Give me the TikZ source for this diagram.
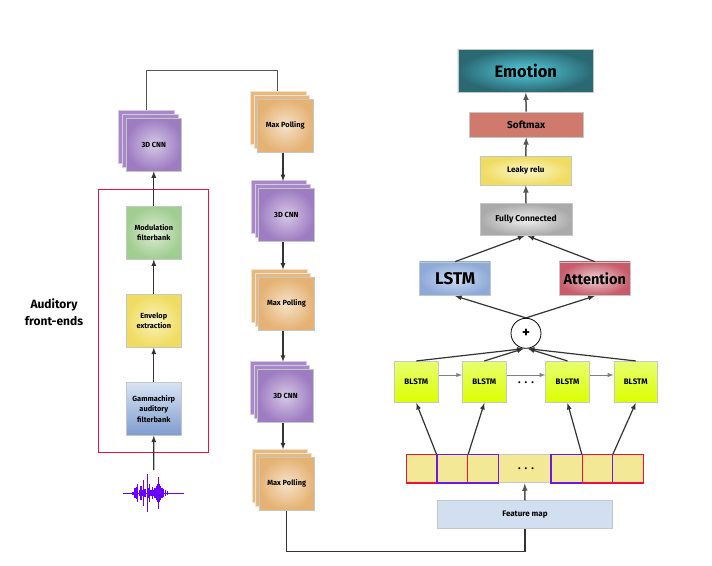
\documentclass[tikz,border=0pt]{standalone}
\usepackage{fontspec}
\setmainfont{Fira Sans}
\usetikzlibrary{shadows}
\definecolor{cnnIn}{HTML}{D6C8E6}
\definecolor{cnnOut}{HTML}{9E7CC2}
\definecolor{poolIn}{HTML}{F6E2C9}
\definecolor{poolOut}{HTML}{E5B274}
\definecolor{waveClr}{HTML}{6A00FF}
\definecolor{boxRed}{HTML}{E8123C}
\definecolor{boxBlue}{HTML}{6A1BE0}
\definecolor{linkClr}{HTML}{333333}
\definecolor{headClr}{HTML}{555555}
\definecolor{cellClr}{HTML}{F3E896}
\definecolor{edgeClr}{HTML}{C4C8C4}
\tikzset{
    block/.style={draw=edgeClr, line width=0.7pt, inner sep=0pt, align=center,
        font=\bfseries\fontsize{7.4}{10.5}\selectfont, minimum width=55.5pt, minimum height=53pt},
    cnnstack/.style={block, inner color=cnnIn, outer color=cnnOut,
        double copy shadow={shadow xshift=-3.7pt, shadow yshift=4pt, fill=cnnOut!90!white, draw=cnnIn}},
    poolstack/.style={block, inner color=poolIn, outer color=poolOut,
        double copy shadow={shadow xshift=-3.5pt, shadow yshift=4pt, fill=poolOut!92!white, draw=poolIn}},
    link/.style={draw=linkClr, line width=1.2pt, -latex},
    headlink/.style={draw=headClr, line width=1.5pt, -latex},
    plainlink/.style={draw=headClr, line width=1.4pt},
    grayarrow/.style={draw=gray, line width=1pt, -latex},
    cell/.style={inner sep=0pt, minimum height=28.3pt, line width=1.1pt},
    dotrow/.style={font=\bfseries\fontsize{11}{11}\selectfont},
}
\begin{document}
\begin{tikzpicture}[x=1pt, y=-1pt, >=latex]
    \useasboundingbox (0,0) rectangle (712,565);

    % Auditory front-ends
    \node[draw=boxRed, line width=0.9pt, minimum width=109.6pt, minimum height=263pt, inner sep=0pt] (frontend) at (153.5,320.8) {};
    \node[align=center, font=\bfseries\fontsize{12}{17}\selectfont] (frontlabel) at (54,312.5) {Auditory\\front-ends};
    \node[block, inner color={rgb,255:red,222;green,237;blue,212}, outer color={rgb,255:red,160;green,205;blue,144}] (modul) at (153.8,232.7) {Modulation\\filterbank};
    \node[block, inner color={rgb,255:red,250;green,243;blue,190}, outer color={rgb,255:red,240;green,220;blue,96}] (envelop) at (153.8,320.8) {Envelop\\extraction};
    \node[block, top color={rgb,255:red,216;green,228;blue,244}, bottom color={rgb,255:red,127;green,156;blue,207}] (gamma) at (153.8,408.8) {Gammachirp\\auditory\\filterbank};

    % waveform
    \coordinate (wave) at (153.7,470);
    \draw[waveClr, line width=0.5pt] (123.3,493.3) -- (184,493.3);
    \foreach \xa/\amp in {133/1.5, 135/5, 136.5/6, 137.7/9, 139.3/3, 141/7, 142/3, 143.3/13, 145/4, 147.3/19, 148.5/5,
        149.7/9, 151/3, 152.3/6, 153.8/3, 155/5, 156.5/7, 157.5/9, 158.3/16, 159.3/9, 160.5/7, 162/5, 163.7/4, 165.5/3, 167.5/2}
        \draw[waveClr, line width=1.2pt] (\xa,493.3-\amp) -- (\xa,493.3+\amp);

    % first and second columns
    \node[cnnstack] (cnnA) at (153.8,144.5) {3D CNN};
    \node[poolstack] (poolA) at (285.2,125.7) {Max Polling};
    \node[cnnstack] (cnnB) at (286.4,215.3) {3D CNN};
    \node[poolstack] (poolB) at (286.5,303.8) {Max Polling};
    \node[cnnstack] (cnnC) at (285.5,396.3) {3D CNN};
    \node[poolstack] (poolC) at (286.7,483.7) {Max Polling};

    \coordinate (cnnAout) at (146.3,110);
    \coordinate (poolAin) at (277.7,91.3);
    \coordinate (cnnBin) at (283,181);
    \coordinate (poolBin) at (283,269.5);
    \coordinate (cnnCin) at (283,361.7);
    \coordinate (poolCin) at (283,449.3);
    \coordinate (mapOut) at (525,528.7);

    \draw[link] (wave) -- (gamma.south);
    \draw[link] (gamma.north) -- (envelop.south);
    \draw[link] (envelop.north) -- (modul.south);
    \draw[link] (modul.north) -- (cnnA.south);
    \draw[plainlink] (cnnAout) |- (poolAin |- 0,70.7) -- (poolAin);
    \draw[link] ([xshift=-2.2pt]poolA.south) -- (cnnBin);
    \draw[link] ([xshift=-3.4pt]cnnB.south) -- (poolBin);
    \draw[link] ([xshift=-3.5pt]poolB.south) -- (cnnCin);
    \draw[link] ([xshift=-2.5pt]cnnC.south) -- (poolCin);
    \draw[link, -] (poolC.south) |- (mapOut |- 0,551.7) -- (mapOut);

    % classifier head
    \node[block, minimum width=135.7pt, minimum height=43pt, inner color={rgb,255:red,85;green,204;blue,222}, outer color={rgb,255:red,42;green,104;blue,114}, font=\bfseries\fontsize{16.5}{18}\selectfont] (emotion) at (525.8,70.8) {Emotion};
    \node[block, minimum width=113.7pt, minimum height=25pt, fill={rgb,255:red,207;green,122;blue,108}, font=\bfseries\fontsize{10}{11}\selectfont] (softmax) at (526.2,124.5) {Softmax};
    \node[block, minimum width=91.7pt, minimum height=28.3pt, inner color={rgb,255:red,252;green,247;blue,205}, outer color={rgb,255:red,240;green,220;blue,96}, font=\bfseries\fontsize{8}{10}\selectfont] (leaky) at (525.8,170.8) {Leaky relu};
    \node[block, minimum width=92pt, minimum height=32pt, inner color={rgb,255:red,240;green,240;blue,240}, outer color={rgb,255:red,170;green,170;blue,170}, font=\bfseries\fontsize{8.5}{10}\selectfont] (fc) at (526,219.7) {Fully Connected};
    \node[block, minimum width=71pt, minimum height=33.7pt, inner color={rgb,255:red,204;green,220;blue,242}, outer color={rgb,255:red,143;green,170;blue,216}, font=\bfseries\fontsize{17}{19}\selectfont] (lstm) at (455.2,278.8) {LSTM};
    \node[block, minimum width=70.7pt, minimum height=33.7pt, inner color={rgb,255:red,238;green,208;blue,212}, outer color={rgb,255:red,200;green,92;blue,108}, font=\bfseries\fontsize{14.5}{17}\selectfont] (attention) at (594.7,278.8) {Attention};
    \node[circle, draw=black, line width=0.8pt, minimum size=30pt, inner sep=0pt, font=\bfseries\fontsize{15}{15}\selectfont] (plus) at (526,333.3) {+};

    % BLSTM row
    \foreach \name/\xa in {blstmA/416.3, blstmB/484.3, blstmC/567.5, blstmD/635.7}
        \node[block, minimum width=43.7pt, minimum height=41.4pt, top color={rgb,255:red,232;green,255;blue,112}, bottom color={rgb,255:red,220;green,255;blue,0}, font=\bfseries\fontsize{8}{10}\selectfont] (\name) at (\xa,382) {BLSTM};
    \node[dotrow] (dotsA) at (526,383) {.\hspace{4pt}.\hspace{4pt}.};

    % feature strip
    \node[fill=cellClr, draw=edgeClr, line width=1pt, minimum width=237pt, minimum height=28.3pt, inner sep=0pt] (strip) at (524.8,468.8) {};
    \node[cell, draw=boxRed, minimum width=61.4pt] (redL) at (437,468.8) {};
    \node[cell, draw=boxBlue, minimum width=61.4pt] (blueL) at (467.7,468.8) {};
    \node[cell, draw=boxBlue, minimum width=61.4pt] (blueR) at (581.7,468.8) {};
    \node[cell, draw=boxRed, minimum width=61pt] (redR) at (612.8,468.8) {};
    \node[dotrow] (dotsB) at (526,468.5) {.\hspace{4pt}.\hspace{4pt}.};
    \node[block, minimum width=175.4pt, minimum height=28pt, fill={rgb,255:red,210;green,223;blue,240}, font=\bfseries\fontsize{8}{10}\selectfont] (featmap) at (525,514.7) {Feature map};

    % connectors of the head
    \draw[headlink] (softmax.north) -- (emotion.south);
    \draw[headlink] (leaky.north) -- (softmax.south);
    \draw[headlink] (fc.north) -- (leaky.south);
    \draw[link] (lstm.north) -- ([xshift=-1.7pt]fc.south);
    \draw[link] (attention.north) -- ([xshift=1.7pt]fc.south);
    \draw[link] (plus.north) -- (lstm.south);
    \draw[link] (plus.north) -- (attention.south);
    \draw[link] (blstmA.north) -- ([xshift=-2.5pt]plus.south);
    \draw[link] (blstmB.north) -- ([xshift=-2.5pt]plus.south);
    \draw[link] (blstmC.north) -- ([xshift=2pt]plus.south);
    \draw[link] (blstmD.north) -- ([xshift=2pt]plus.south);
    \draw[grayarrow] ([yshift=7pt]blstmA.east) -- ([yshift=7pt]blstmB.west);
    \draw[grayarrow] ([yshift=7pt]blstmB.east) -- ([yshift=7pt]blstmC.west);
    \draw[grayarrow] ([yshift=7pt]blstmC.east) -- ([yshift=7pt]blstmD.west);
    \draw[link] (blueL.north west) -- (blstmA.south);
    \draw[link] (redL.north east) -- (blstmB.south);
    \draw[link] (redR.north west) -- (blstmC.south);
    \draw[link] (blueR.north east) -- (blstmD.south);
    \draw[headlink] (featmap.north) -- (strip.south);
\end{tikzpicture}
\end{document}
